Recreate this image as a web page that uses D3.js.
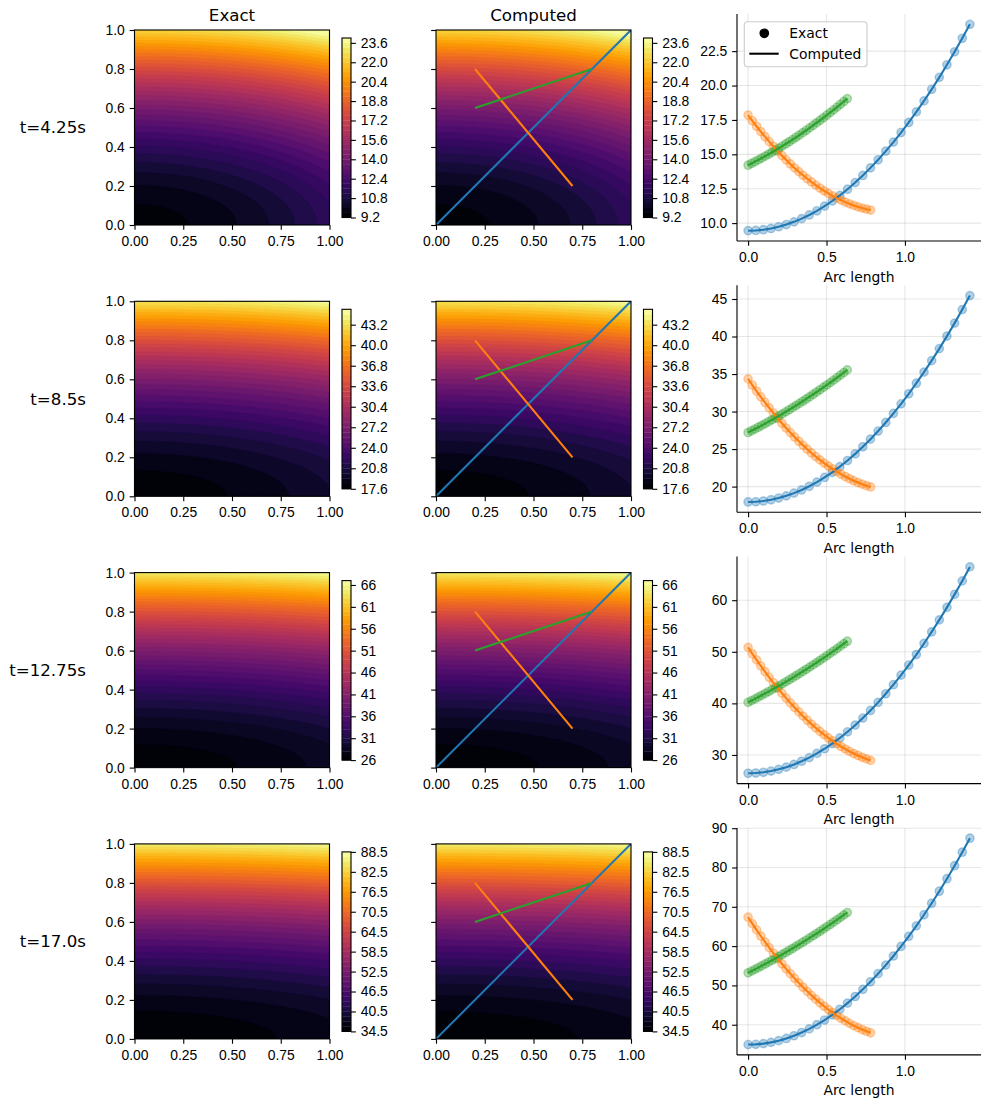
<!DOCTYPE html>
<html>
<head>
<meta charset="utf-8">
<script src="https://cdn.jsdelivr.net/npm/d3@7"></script>
<style>
  body { margin: 0; background: #fff; }
  svg { font-family: "DejaVu Sans", sans-serif; }
</style>
</head>
<body>
<div id="chart"></div>
<script>
// Row labels (snapshot times)
const times = ["t=4.25s", "t=8.5s", "t=12.75s", "t=17.0s"];

// Field, one entry per row: u = base + xCoef*x^2 + yCoef*y^2
const baseValues = [9.45, 17.95, 26.45, 34.95];
const xCoefs = [2, 2, 2, 2];
const yCoefs = [13, 25.5, 38, 50.5];

// Contour levels per row: lowest level, spacing, highest level
const levelLow = [9.2, 17.6, 26, 34.5];
const levelStep = [0.4, 0.8, 1.0, 1.5];
const levelHigh = [24.0, 45.6, 67, 88.5];

// Colorbar tick labels
const cbTicks = [
    [9.2, 10.8, 12.4, 14.0, 15.6, 17.2, 18.8, 20.4, 22.0, 23.6],
    [17.6, 20.8, 24.0, 27.2, 30.4, 33.6, 36.8, 40.0, 43.2],
    [26, 31, 36, 41, 46, 51, 56, 61, 66],
    [34.5, 40.5, 46.5, 52.5, 58.5, 64.5, 70.5, 76.5, 82.5, 88.5]
];
const cbFormats = [".1f", ".1f", "d", ".1f"];

// Profile plot y ticks
const profileTicks = [
    [10, 12.5, 15, 17.5, 20, 22.5],
    [20, 25, 30, 35, 40, 45],
    [30, 40, 50, 60],
    [40, 50, 60, 70, 80, 90]
];
const profileFormats = [".1f", "d", "d", "d"];
const arcTicks = [0, 0.5, 1.0];

// Sampling lines drawn over the computed field
const lineStarts = [[0, 0], [0.2, 0.8], [0.2, 0.6]];
const lineEnds = [[1, 1], [0.7, 0.2], [0.8, 0.8]];
const lineColors = ["#1f77b4", "#ff7f0e", "#2ca02c"];
const samplesPerLine = 30;

const colTitles = ["Exact", "Computed"];
const gridTicks = [0, 0.25, 0.5, 0.75, 1.0];
const gridYTicks = [0, 0.2, 0.4, 0.6, 0.8, 1.0];

// ---- layout (pixels) ----
const W = 991, H = 1108;
const pt = 100 / 72;               // matplotlib points -> px at dpi 100
const fs = 10 * pt, fsBig = 12 * pt;
const tickLen = 3.5 * pt, tickPad = 3.5 * pt;
const rowTop = r => 14 + r * 271.3;
const rowH = 227;
const box = 195;
const colLeft = [134.5, 436];
const cbLeft = [342, 643.5];
const cbW = 9;
const profL = 737, profR = 981;

const svg = d3.select("#chart").append("svg")
    .attr("width", W)
    .attr("height", H);

function field(r, x, y) {
    return baseValues[r] + xCoefs[r] * x * x + yCoefs[r] * y * y;
}

function levelsFor(r) {
    return d3.range(levelLow[r], levelHigh[r] + levelStep[r] / 2, levelStep[r]);
}

function styleAxis(g) {
    g.select(".domain").remove();
    g.selectAll(".tick line").attr("stroke", "#000").attr("stroke-width", 0.8 * pt);
    g.selectAll(".tick text").attr("fill", "#000").style("font-size", fs + "px");
}

let clipId = 0;

function drawContour(r, c) {
    const x0 = colLeft[c];
    const y0 = rowTop(r) + (rowH - box) / 2;
    const g = svg.append("g");
    const xS = d3.scaleLinear().domain([0, 1]).range([x0, x0 + box]);
    const yS = d3.scaleLinear().domain([0, 1]).range([y0 + box, y0]);

    const N = 160;
    const values = new Array(N * N);
    for (let j = 0; j < N; j++) {
        for (let i = 0; i < N; i++) {
            values[j * N + i] = field(r, (i + 0.5) / N, (j + 0.5) / N);
        }
    }
    const levels = levelsFor(r);
    const nBands = levels.length - 1;
    const color = b => d3.interpolateInferno((b + 0.5) / nBands);

    const contours = d3.contours().size([N, N]).thresholds(levels.slice(0, -1))(values);
    const proj = d3.geoTransform({
        point(x, y) { this.stream.point(xS(x / N), yS(y / N)); }
    });
    const path = d3.geoPath(proj);

    const id = "clip" + (clipId++);
    g.append("clipPath").attr("id", id)
        .append("rect").attr("x", x0).attr("y", y0).attr("width", box).attr("height", box);

    const plot = g.append("g").attr("clip-path", `url(#${id})`);
    plot.selectAll("path.band")
        .data(contours)
        .join("path")
        .attr("class", "band")
        .attr("d", path)
        .attr("fill", (d, i) => color(i))
        .attr("stroke", (d, i) => color(i))
        .attr("stroke-width", 0.4);

    // sampling lines on the computed panel
    if (c === 1) {
        lineStarts.forEach((p0, k) => {
            const p1 = lineEnds[k];
            plot.append("line")
                .attr("x1", xS(p0[0])).attr("y1", yS(p0[1]))
                .attr("x2", xS(p1[0])).attr("y2", yS(p1[1]))
                .attr("stroke", lineColors[k])
                .attr("stroke-width", 1.5 * pt);
        });
    }

    g.append("rect")
        .attr("x", x0).attr("y", y0).attr("width", box).attr("height", box)
        .attr("fill", "none").attr("stroke", "#000").attr("stroke-width", 0.8 * pt);

    g.append("g")
        .attr("transform", `translate(0,${y0 + box})`)
        .call(d3.axisBottom(xS).tickValues(gridTicks).tickFormat(d3.format(".2f"))
            .tickSize(tickLen).tickPadding(tickPad))
        .call(styleAxis)
        .selectAll(".tick text").attr("dy", "0.82em");

    g.append("g")
        .attr("transform", `translate(${x0},0)`)
        .call(d3.axisLeft(yS).tickValues(gridYTicks)
            .tickFormat(c === 0 ? d3.format(".1f") : () => "")
            .tickSize(tickLen).tickPadding(tickPad))
        .call(styleAxis);

    if (r === 0) {
        g.append("text")
            .attr("x", x0 + box / 2)
            .attr("y", y0 - 8.6)
            .attr("text-anchor", "middle")
            .style("font-size", fsBig + "px")
            .text(colTitles[c]);
    }

    // colorbar
    const cbTop = rowTop(r) + 24, cbBot = rowTop(r) + 203.5;
    const cbS = d3.scaleLinear().domain([levels[0], levels[levels.length - 1]]).range([cbBot, cbTop]);
    const cb = svg.append("g");
    cb.selectAll("rect.cbband")
        .data(d3.range(nBands))
        .join("rect")
        .attr("class", "cbband")
        .attr("x", cbLeft[c])
        .attr("width", cbW)
        .attr("y", b => cbS(levels[b + 1]))
        .attr("height", b => cbS(levels[b]) - cbS(levels[b + 1]) + 0.3)
        .attr("fill", b => color(b));
    cb.append("rect")
        .attr("x", cbLeft[c]).attr("y", cbTop).attr("width", cbW).attr("height", cbBot - cbTop)
        .attr("fill", "none").attr("stroke", "#000").attr("stroke-width", 0.8 * pt);
    cb.append("g")
        .attr("transform", `translate(${cbLeft[c] + cbW},0)`)
        .call(d3.axisRight(cbS).tickValues(cbTicks[r]).tickFormat(d3.format(cbFormats[r]))
            .tickSize(tickLen).tickPadding(tickPad))
        .call(styleAxis);
}

function drawProfiles(r) {
    const top = rowTop(r), bot = top + rowH;
    const g = svg.append("g");

    // sample the field along each line
    const series = lineStarts.map((p0, k) => {
        const p1 = lineEnds[k];
        const len = Math.hypot(p1[0] - p0[0], p1[1] - p0[1]);
        return d3.range(samplesPerLine).map(n => {
            const f = n / (samplesPerLine - 1);
            const x = p0[0] + f * (p1[0] - p0[0]);
            const y = p0[1] + f * (p1[1] - p0[1]);
            return { s: f * len, u: field(r, x, y) };
        });
    });

    const all = series.flat();
    const sMax = d3.max(all, d => d.s);
    const [uMin, uMax] = d3.extent(all, d => d.u);
    const xS = d3.scaleLinear()
        .domain([-0.05 * sMax, 1.05 * sMax])
        .range([profL, profR]);
    const yS = d3.scaleLinear()
        .domain([uMin - 0.05 * (uMax - uMin), uMax + 0.05 * (uMax - uMin)])
        .range([bot, top]);

    // grid
    g.append("g").selectAll("line")
        .data(arcTicks)
        .join("line")
        .attr("x1", d => xS(d)).attr("x2", d => xS(d))
        .attr("y1", top).attr("y2", bot)
        .attr("stroke", "#b0b0b0").attr("stroke-opacity", 0.3).attr("stroke-width", 0.8 * pt);
    g.append("g").selectAll("line")
        .data(profileTicks[r])
        .join("line")
        .attr("x1", profL).attr("x2", profR)
        .attr("y1", d => yS(d)).attr("y2", d => yS(d))
        .attr("stroke", "#b0b0b0").attr("stroke-opacity", 0.3).attr("stroke-width", 0.8 * pt);

    const line = d3.line().x(d => xS(d.s)).y(d => yS(d.u));

    series.forEach((pts, k) => {
        g.append("g").selectAll("circle")
            .data(pts)
            .join("circle")
            .attr("cx", d => xS(d.s))
            .attr("cy", d => yS(d.u))
            .attr("r", 3 * pt)
            .attr("fill", lineColors[k])
            .attr("fill-opacity", 0.35)
            .attr("stroke", lineColors[k])
            .attr("stroke-opacity", 0.35)
            .attr("stroke-width", 1 * pt);
    });
    series.forEach((pts, k) => {
        g.append("path")
            .datum(pts)
            .attr("d", line)
            .attr("fill", "none")
            .attr("stroke", lineColors[k])
            .attr("stroke-width", 1.5 * pt);
    });

    // axes (left + bottom spines only)
    g.append("g")
        .attr("transform", `translate(0,${bot})`)
        .call(d3.axisBottom(xS).tickValues(arcTicks).tickFormat(d3.format(".1f"))
            .tickSize(tickLen).tickPadding(tickPad))
        .call(styleAxis)
        .selectAll(".tick text").attr("dy", "0.82em");
    g.append("g")
        .attr("transform", `translate(${profL},0)`)
        .call(d3.axisLeft(yS).tickValues(profileTicks[r]).tickFormat(d3.format(profileFormats[r]))
            .tickSize(tickLen).tickPadding(tickPad))
        .call(styleAxis);
    g.append("line")
        .attr("x1", profL).attr("x2", profR).attr("y1", bot).attr("y2", bot)
        .attr("stroke", "#000").attr("stroke-width", 0.8 * pt);
    g.append("line")
        .attr("x1", profL).attr("x2", profL).attr("y1", top).attr("y2", bot)
        .attr("stroke", "#000").attr("stroke-width", 0.8 * pt);

    g.append("text")
        .attr("x", (profL + profR) / 2)
        .attr("y", bot + 40.5)
        .attr("text-anchor", "middle")
        .style("font-size", fs + "px")
        .text("Arc length");

    // legend on the first row
    if (r === 0) {
        const lg = g.append("g").attr("transform", `translate(${profL + 7.3},${top + 7.7})`);
        lg.append("rect")
            .attr("width", 122.7).attr("height", 45).attr("rx", 3)
            .attr("fill", "#fff").attr("fill-opacity", 0.8)
            .attr("stroke", "#cccccc").attr("stroke-width", 0.8 * pt);
        lg.append("circle").attr("cx", 20).attr("cy", 11.6).attr("r", 3 * pt)
            .attr("fill", "#000").attr("stroke", "#000").attr("stroke-width", 1 * pt);
        lg.append("line").attr("x1", 5).attr("x2", 34.4).attr("y1", 32).attr("y2", 32)
            .attr("stroke", "#000").attr("stroke-width", 1.5 * pt);
        lg.append("text").attr("x", 45).attr("y", 11.6).attr("dy", "0.35em")
            .style("font-size", fs + "px").text("Exact");
        lg.append("text").attr("x", 45).attr("y", 32).attr("dy", "0.35em")
            .style("font-size", fs + "px").text("Computed");
    }
}

times.forEach((label, r) => {
    drawContour(r, 0);
    drawContour(r, 1);
    drawProfiles(r);
    svg.append("text")
        .attr("x", 86)
        .attr("y", rowTop(r) + rowH / 2)
        .attr("dy", "0.35em")
        .attr("text-anchor", "end")
        .style("font-size", fsBig + "px")
        .text(label);
});
</script>
</body>
</html>
